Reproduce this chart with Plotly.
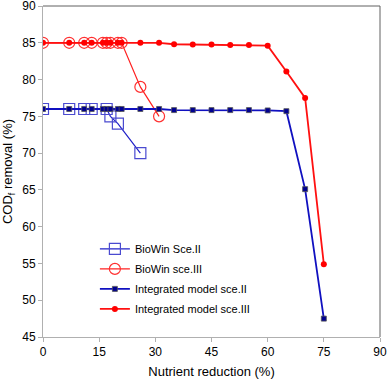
import plotly.graph_objects as go

# ---- data ----
biowin2_x = [0, 7, 11, 13, 17, 18, 20, 26]
biowin2_y = [76, 76, 76, 76, 76, 75, 74, 70]

biowin3_x = [0, 7, 11, 13, 16, 17, 18, 20, 21, 26, 31]
biowin3_y = [85, 85, 85, 85, 85, 85, 85, 85, 85, 79, 75]

integ_x = [0, 7, 11, 13, 16, 17, 18, 20, 21, 26, 31, 35, 40, 45, 50, 55, 60, 65, 70, 75]
integ2_y = [76, 76, 76, 76, 76, 76, 76, 76, 76, 76, 76,
            75.85, 75.85, 75.85, 75.85, 75.85, 75.8, 75.7, 65.1, 47.5]
integ3_y = [85, 85, 85, 85, 85, 85, 85, 85, 85, 85, 85,
            84.8, 84.75, 84.75, 84.7, 84.7, 84.6, 81.1, 77.5, 54.9]

x_ticks = [0, 15, 30, 45, 60, 75, 90]
y_ticks = [45, 50, 55, 60, 65, 70, 75, 80, 85, 90]

FONT = "Liberation Sans, Arial, sans-serif"

fig = go.Figure()
fig.add_trace(go.Scatter(
    x=biowin2_x, y=biowin2_y, name="BioWin Sce.II", mode="lines+markers",
    legendgroup="a",
    line=dict(color="#2020c8", width=1.2),
    marker=dict(symbol="square-open", size=11, color="#4a4ad0", line=dict(width=1.2))))
fig.add_trace(go.Scatter(
    x=biowin3_x, y=biowin3_y, name="BioWin sce.III", mode="lines+markers",
    legendgroup="b",
    line=dict(color="#ff2020", width=1.2),
    marker=dict(symbol="circle-open", size=11, color="#ff3030", line=dict(width=1.2))))
fig.add_trace(go.Scatter(
    x=integ_x, y=integ2_y, name="Integrated model sce.II", mode="lines+markers",
    legendgroup="c",
    line=dict(color="#1010c0", width=1.8),
    marker=dict(symbol="square", size=5, color="#000090", line=dict(color="#555555", width=0.8))))
fig.add_trace(go.Scatter(
    x=integ_x, y=integ3_y, name="Integrated model sce.III", mode="lines+markers",
    legendgroup="d",
    line=dict(color="#ff1010", width=1.8),
    marker=dict(symbol="circle", size=6, color="#ff0000")))

fig.update_layout(
    width=387, height=379,
    margin=dict(l=43, r=7, t=6, b=42),
    paper_bgcolor="white", plot_bgcolor="white",
    font=dict(family=FONT, size=12, color="black"),
    showlegend=True,
    legend=dict(x=0.154, y=0.31, xanchor="left", yanchor="top",
                bgcolor="rgba(0,0,0,0)", font=dict(size=11, family=FONT),
                traceorder="grouped", tracegroupgap=1),
    xaxis=dict(range=[0, 90], tickvals=x_ticks, showgrid=False, zeroline=False,
               showline=True, linecolor="#b0b0b0", linewidth=1,
               ticks="outside", ticklen=4, tickcolor="#b0b0b0",
               tickfont=dict(size=12), automargin=False, ticklabeloverflow="allow",
               title=dict(text="Nutrient reduction (%)", font=dict(size=13), standoff=10)),
    yaxis=dict(range=[45, 90], tickvals=y_ticks, showgrid=False, zeroline=False,
               showline=True, linecolor="#b0b0b0", linewidth=1,
               ticks="outside", ticklen=4, tickcolor="#b0b0b0",
               tickfont=dict(size=12), automargin=False, ticklabeloverflow="allow",
               title=dict(text="COD<sub>f</sub> removal (%)", font=dict(size=13), standoff=7)),
    shapes=[
        dict(type="line", xref="paper", yref="paper", x0=0, x1=1, y0=1, y1=1,
             line=dict(color="#606060", width=1)),
        dict(type="line", xref="paper", yref="paper", x0=1, x1=1, y0=0, y1=1,
             line=dict(color="#606060", width=1)),
    ],
)

fig.write_html("out.html", config={"displayModeBar": False},
               post_script="document.body.style.margin='0';document.body.style.overflow='hidden';")
